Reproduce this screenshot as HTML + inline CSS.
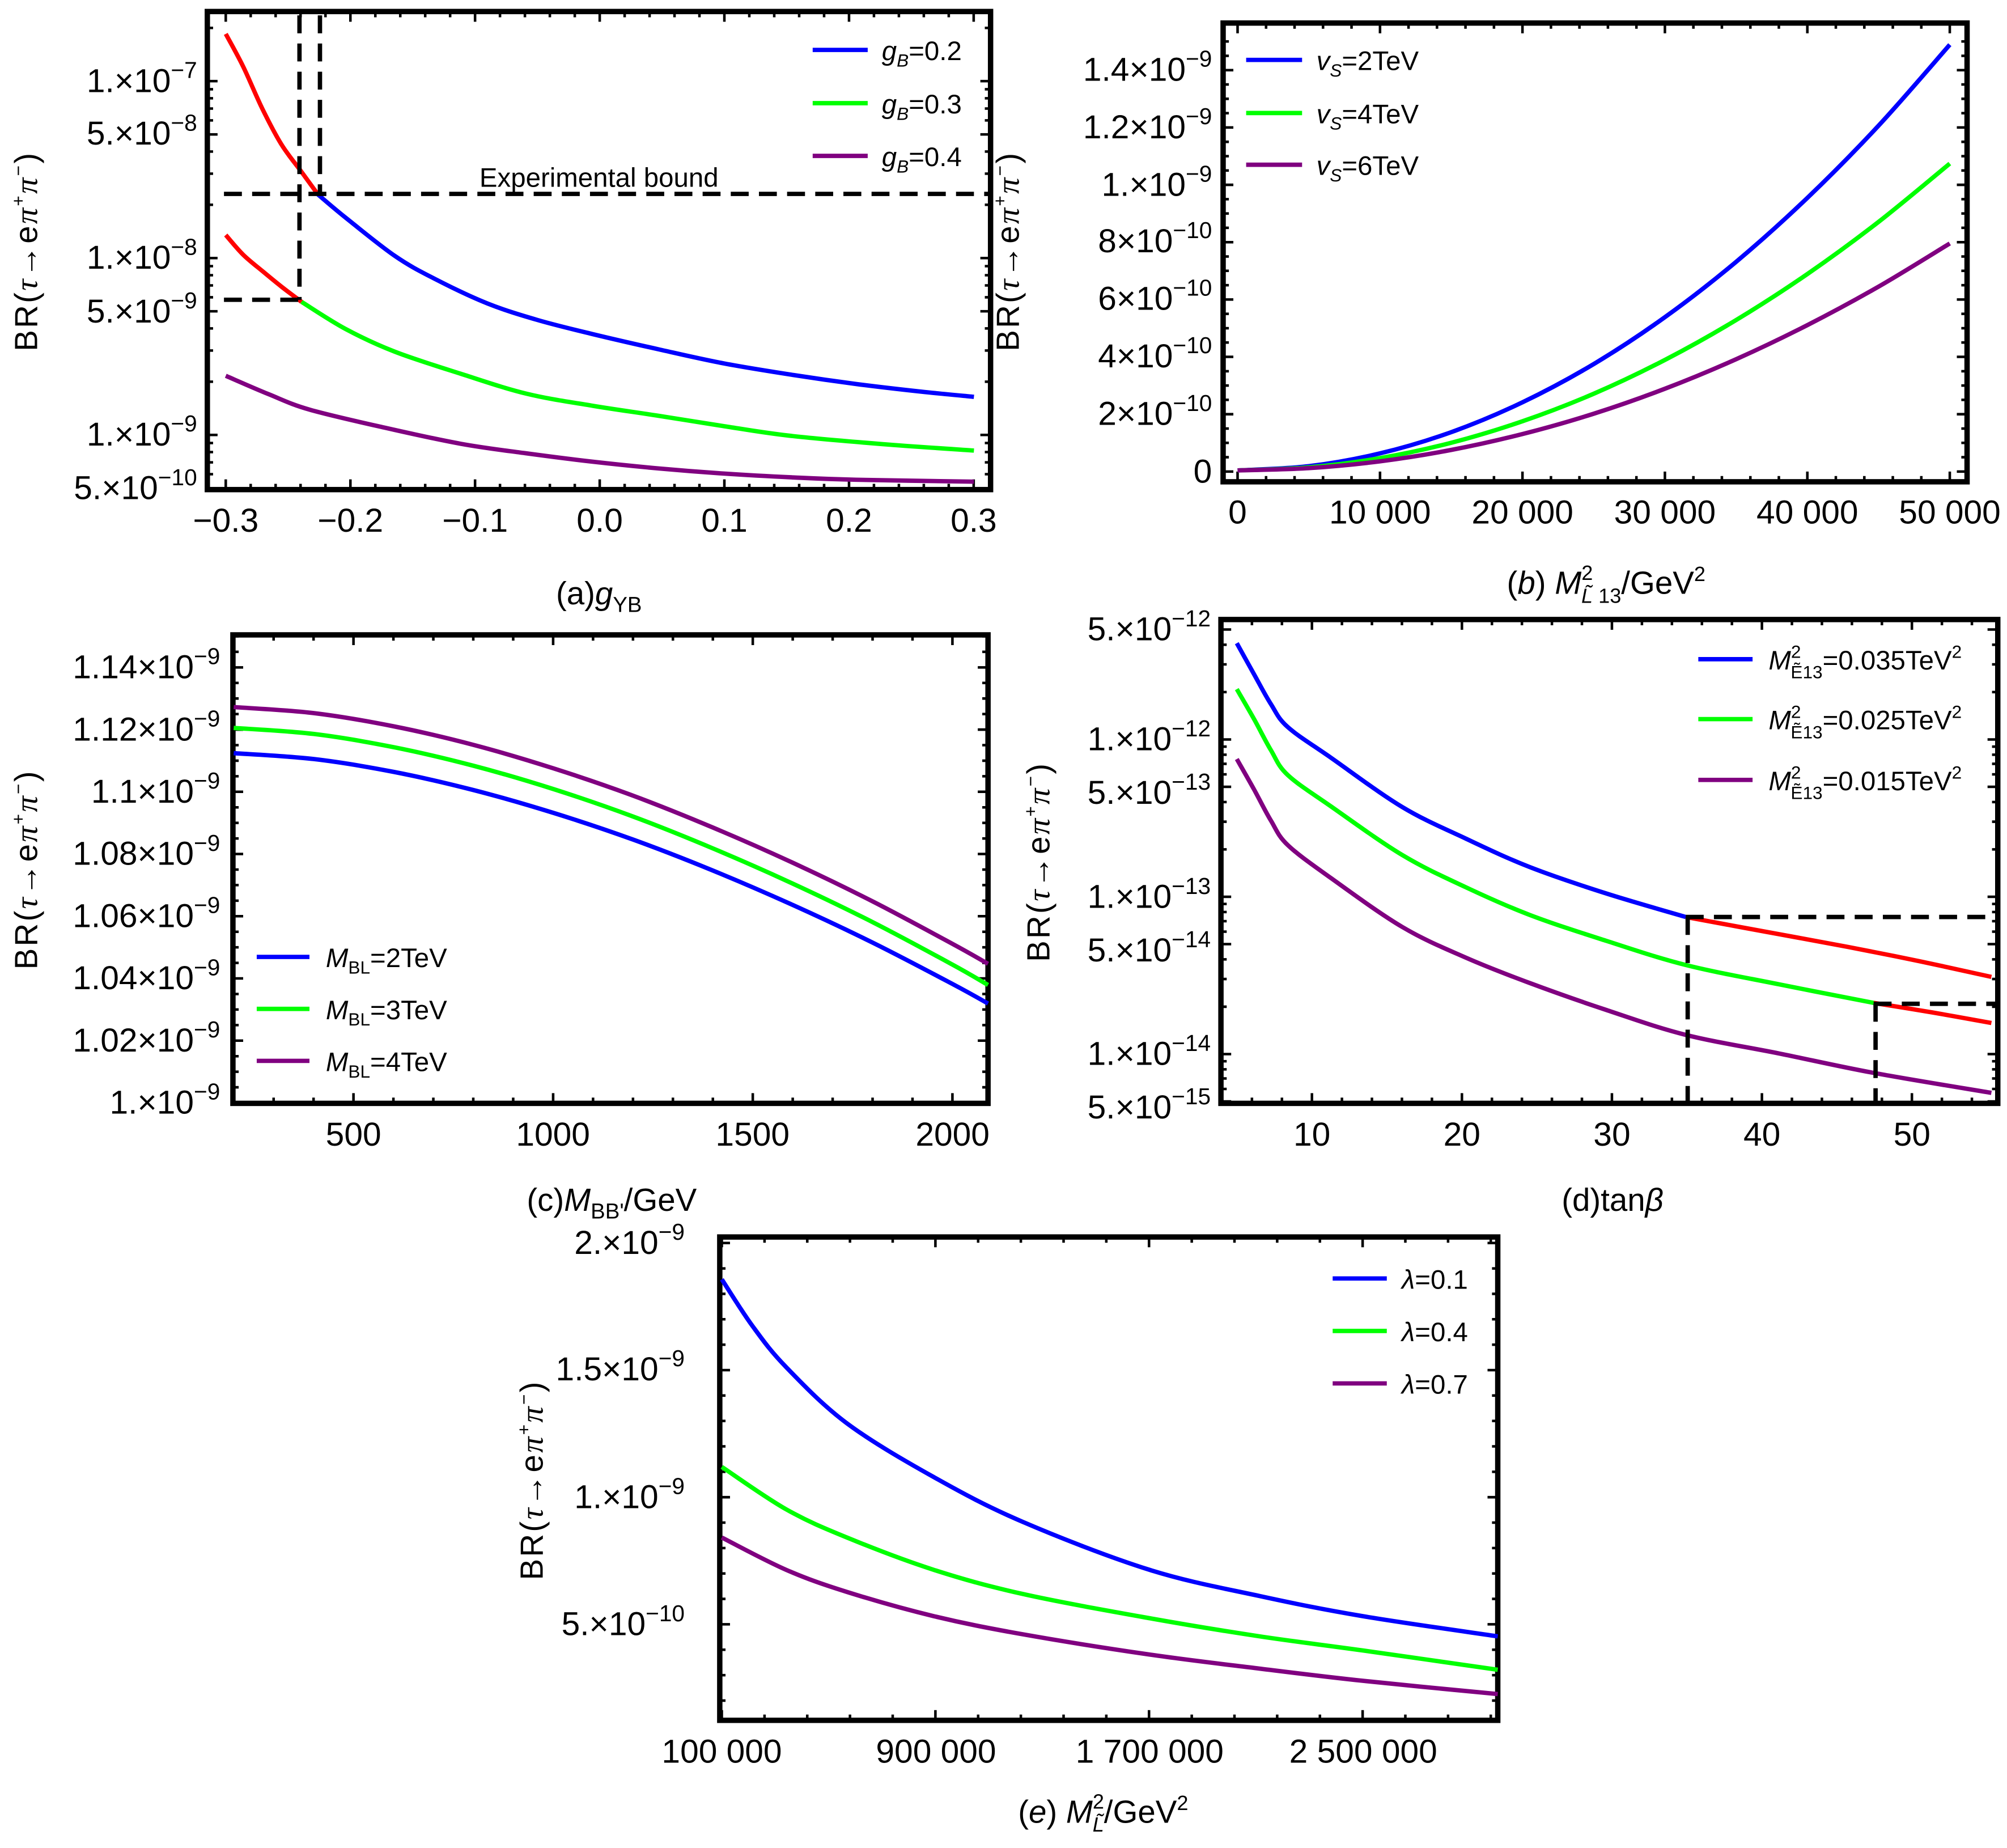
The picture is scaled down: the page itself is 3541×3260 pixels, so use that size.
<!DOCTYPE html>
<html><head><meta charset="utf-8"><style>
html,body{margin:0;padding:0;background:#fff}
svg{display:block}
text{font-family:"Liberation Sans",sans-serif;fill:#000}
.tl{font-size:26px;text-anchor:end}
.tc{font-size:26px;text-anchor:middle}
.lg{font-size:21px}
.ax{font-size:25px}
.fr{fill:none;stroke:#000;stroke-width:4.2}
.c{fill:none;stroke-width:3.4;stroke-linejoin:round;stroke-linecap:butt}
.b{stroke:#0000ff}.g{stroke:#00ff00}.p{stroke:#800080}.r{stroke:#ff0000}
.d{fill:none;stroke:#000;stroke-width:3.4;stroke-dasharray:14 8}
</style></head><body>
<svg id="s" xmlns="http://www.w3.org/2000/svg" width="3541" height="3260" viewBox="0 0 1568.2 1443.75" preserveAspectRatio="none">
<rect x="0" y="0" width="1568.2" height="1443.75" fill="#fff"/>
<g id="ticks" stroke="#000" stroke-width="2"></g>

<!-- Panel (a) -->
<rect class="fr" x="162" y="9" width="612" height="373.5"/>
<polyline class="c b" points="248.5,152 270,170 308.6,200 340,218 380.7,237 420,250 463,261 515,273 566,284 620,293 669,300 720,306 761,310"/>
<polyline class="c r" points="176.4,26.5 190,52 205,85 220,113 235.6,134.3 248.5,152"/>
<polyline class="c g" points="235.6,235.8 270,257 308.6,274.8 360,292 411.5,307.6 463,317 514.4,324.8 566,333 617,340.4 690,347 761,352"/>
<polyline class="c r" points="176.4,183.6 190,199 205.8,212.4 220,224 235.6,235.8"/>
<polyline class="c p" points="176.4,293.6 210,308 241.8,320 300,334 360,346.7 410,354 463,360.7 515,366 566,370 620,373 669,374.8 761,376.3"/>
<line class="d" x1="175" y1="151.5" x2="772" y2="151.5"/>
<line class="d" x1="250" y1="12" x2="250" y2="151.5"/>
<line class="d" x1="234" y1="12" x2="234" y2="234.2"/>
<line class="d" x1="175" y1="234.2" x2="234" y2="234.2"/>
<text x="468" y="146" class="lg" text-anchor="middle">Experimental bound</text>
<line x1="635" y1="39" x2="678" y2="39" class="c b"/>
<line x1="635" y1="80.6" x2="678" y2="80.6" class="c g"/>
<line x1="635" y1="121.8" x2="678" y2="121.8" class="c p"/>
<text x="689" y="47" class="lg"><tspan font-style="italic">g</tspan><tspan font-size="14" dy="5" font-style="italic">B</tspan><tspan dy="-5">=0.2</tspan></text>
<text x="689" y="88.6" class="lg"><tspan font-style="italic">g</tspan><tspan font-size="14" dy="5" font-style="italic">B</tspan><tspan dy="-5">=0.3</tspan></text>
<text x="689" y="129.8" class="lg"><tspan font-style="italic">g</tspan><tspan font-size="14" dy="5" font-style="italic">B</tspan><tspan dy="-5">=0.4</tspan></text>
<g class="tl">
<text x="154" y="72">1.×10<tspan font-size="18" dy="-11">−7</tspan></text>
<text x="154" y="113">5.×10<tspan font-size="18" dy="-11">−8</tspan></text>
<text x="154" y="210">1.×10<tspan font-size="18" dy="-11">−8</tspan></text>
<text x="154" y="252">5.×10<tspan font-size="18" dy="-11">−9</tspan></text>
<text x="154" y="348">1.×10<tspan font-size="18" dy="-11">−9</tspan></text>
<text x="154" y="390">5.×10<tspan font-size="18" dy="-11">−10</tspan></text>
</g>
<g class="tc">
<text x="176.4" y="415.5">−0.3</text><text x="273.8" y="415.5">−0.2</text><text x="371.2" y="415.5">−0.1</text>
<text x="468.6" y="415.5">0.0</text><text x="566" y="415.5">0.1</text><text x="663.4" y="415.5">0.2</text><text x="760.8" y="415.5">0.3</text>
</g>
<text x="468" y="472" class="ax" text-anchor="middle">(a)<tspan font-style="italic">g</tspan><tspan font-size="17" dy="6">YB</tspan></text>
<text class="ax" transform="translate(29,197) rotate(-90)" text-anchor="middle" textLength="155">BR(<tspan font-family="Liberation Serif" font-style="italic">τ</tspan>→e<tspan font-family="Liberation Serif" font-style="italic">π</tspan><tspan font-size="14" dy="-10">+</tspan><tspan dy="10" font-family="Liberation Serif" font-style="italic">π</tspan><tspan font-size="14" dy="-10">−</tspan><tspan dy="10">)</tspan></text>

<!-- Panel (b) -->
<rect class="fr" x="955.7" y="18" width="581.3" height="358.4"/>
<polyline class="c b" points="967,367.5 1022.7,364.2 1078.3,354.2 1134,337.6 1189.6,314.3 1245.3,284.4 1300.9,247.8 1356.6,204.5 1412.2,154.6 1467.9,98.1 1523.5,34.9"/>
<polyline class="c g" points="967,367.5 1022.7,365.1 1078.3,357.9 1134,345.9 1189.6,329.1 1245.3,307.6 1300.9,281.2 1356.6,250 1412.2,214.1 1467.9,173.3 1523.5,127.8"/>
<polyline class="c p" points="967,367.5 1022.7,365.7 1078.3,360.4 1134,351.5 1189.6,339.1 1245.3,323.2 1300.9,303.7 1356.6,280.6 1412.2,254 1467.9,223.9 1523.5,190.2"/>
<line x1="973.7" y1="46.8" x2="1017.4" y2="46.8" class="c b"/>
<line x1="973.7" y1="88.3" x2="1017.4" y2="88.3" class="c g"/>
<line x1="973.7" y1="128.7" x2="1017.4" y2="128.7" class="c p"/>
<text x="1028.6" y="54.8" class="lg"><tspan font-style="italic">v</tspan><tspan font-size="14" dy="5" font-style="italic">S</tspan><tspan dy="-5">=2TeV</tspan></text>
<text x="1028.6" y="96.3" class="lg"><tspan font-style="italic">v</tspan><tspan font-size="14" dy="5" font-style="italic">S</tspan><tspan dy="-5">=4TeV</tspan></text>
<text x="1028.6" y="136.7" class="lg"><tspan font-style="italic">v</tspan><tspan font-size="14" dy="5" font-style="italic">S</tspan><tspan dy="-5">=6TeV</tspan></text>
<g class="tl">
<text x="947" y="377">0</text>
<text x="947" y="332">2×10<tspan font-size="18" dy="-11">−10</tspan></text>
<text x="947" y="287">4×10<tspan font-size="18" dy="-11">−10</tspan></text>
<text x="947" y="242">6×10<tspan font-size="18" dy="-11">−10</tspan></text>
<text x="947" y="197">8×10<tspan font-size="18" dy="-11">−10</tspan></text>
<text x="947" y="153">1.×10<tspan font-size="18" dy="-11">−9</tspan></text>
<text x="947" y="108">1.2×10<tspan font-size="18" dy="-11">−9</tspan></text>
<text x="947" y="63">1.4×10<tspan font-size="18" dy="-11">−9</tspan></text>
</g>
<g class="tc">
<text x="967" y="409">0</text><text x="1078.3" y="409">10 000</text><text x="1189.6" y="409">20 000</text>
<text x="1300.9" y="409">30 000</text><text x="1412.2" y="409">40 000</text><text x="1523.5" y="409">50 000</text>
</g>
<text x="1255" y="464" class="ax" text-anchor="middle">(<tspan font-style="italic">b</tspan>) <tspan font-style="italic">M</tspan><tspan font-size="16" dy="-11">2</tspan><tspan font-size="16" dx="-9" dy="18" font-style="italic">L̃</tspan><tspan font-size="16" dy="0"> 13</tspan><tspan dy="-7">/GeV</tspan><tspan font-size="16" dy="-10">2</tspan></text>
<text class="ax" transform="translate(796,197) rotate(-90)" text-anchor="middle" textLength="155">BR(<tspan font-family="Liberation Serif" font-style="italic">τ</tspan>→e<tspan font-family="Liberation Serif" font-style="italic">π</tspan><tspan font-size="14" dy="-10">+</tspan><tspan dy="10" font-family="Liberation Serif" font-style="italic">π</tspan><tspan font-size="14" dy="-10">−</tspan><tspan dy="10">)</tspan></text>

<!-- Panel (c) -->
<rect class="fr" x="182" y="496" width="590" height="366"/>
<polyline class="c b" points="182.6,588.4 245,593 307.4,603 369.8,617.2 432.2,635 494.6,655.9 557,680.1 619.4,707 681.8,736.4 744.2,768.7 772,784"/>
<polyline class="c g" points="182.6,568.7 245,573.4 307.4,583.7 369.8,598.2 432.2,616.4 494.6,637.9 557,662.8 619.4,690.3 681.8,720.4 744.2,753.6 772,769.5"/>
<polyline class="c p" points="182.6,552.4 245,557.1 307.4,567.4 369.8,581.9 432.2,600.2 494.6,621.6 557,646.5 619.4,674 681.8,704.2 744.2,737.4 772,753"/>
<line x1="200.6" y1="747.6" x2="241.8" y2="747.6" class="c b"/>
<line x1="200.6" y1="788.2" x2="241.8" y2="788.2" class="c g"/>
<line x1="200.6" y1="828.8" x2="241.8" y2="828.8" class="c p"/>
<text x="254.6" y="755.6" class="lg"><tspan font-style="italic">M</tspan><tspan font-size="14" dy="5">BL</tspan><tspan dy="-5">=2TeV</tspan></text>
<text x="254.6" y="796.2" class="lg"><tspan font-style="italic">M</tspan><tspan font-size="14" dy="5">BL</tspan><tspan dy="-5">=3TeV</tspan></text>
<text x="254.6" y="836.8" class="lg"><tspan font-style="italic">M</tspan><tspan font-size="14" dy="5">BL</tspan><tspan dy="-5">=4TeV</tspan></text>
<g class="tl">
<text x="172" y="870">1.×10<tspan font-size="18" dy="-11">−9</tspan></text>
<text x="172" y="821.5">1.02×10<tspan font-size="18" dy="-11">−9</tspan></text>
<text x="172" y="772.9">1.04×10<tspan font-size="18" dy="-11">−9</tspan></text>
<text x="172" y="724.3">1.06×10<tspan font-size="18" dy="-11">−9</tspan></text>
<text x="172" y="675.7">1.08×10<tspan font-size="18" dy="-11">−9</tspan></text>
<text x="172" y="627.1">1.1×10<tspan font-size="18" dy="-11">−9</tspan></text>
<text x="172" y="578.5">1.12×10<tspan font-size="18" dy="-11">−9</tspan></text>
<text x="172" y="529.9">1.14×10<tspan font-size="18" dy="-11">−9</tspan></text>
</g>
<g class="tc">
<text x="276.2" y="895">500</text><text x="432.1" y="895">1000</text><text x="588" y="895">1500</text><text x="744.3" y="895">2000</text>
</g>
<text x="478" y="946" class="ax" text-anchor="middle">(c)<tspan font-style="italic">M</tspan><tspan font-size="17" dy="6">BB'</tspan><tspan dy="-6">/GeV</tspan></text>
<text class="ax" transform="translate(29,680) rotate(-90)" text-anchor="middle" textLength="155">BR(<tspan font-family="Liberation Serif" font-style="italic">τ</tspan>→e<tspan font-family="Liberation Serif" font-style="italic">π</tspan><tspan font-size="14" dy="-10">+</tspan><tspan dy="10" font-family="Liberation Serif" font-style="italic">π</tspan><tspan font-size="14" dy="-10">−</tspan><tspan dy="10">)</tspan></text>

<!-- Panel (d) -->
<rect class="fr" x="954" y="484" width="607" height="378"/>
<polyline class="c b" points="966.4,502.5 980,527 993,550 1006.2,568 1040,592 1095.7,630.5 1145,655 1195.3,677.4 1255,698 1317.2,716.4"/>
<polyline class="c r" points="1317.2,716.4 1380,728 1444,739.8 1500,751 1556,763.2"/>
<polyline class="c g" points="966.4,538.4 980,562 993,586 1006.2,605.5 1040,630 1095.7,668 1145,693 1195.3,714.8 1255,735 1317.2,753.9 1390,769 1464,783.5"/>
<polyline class="c r" points="1464,783.5 1510,791 1556,799.2"/>
<polyline class="c p" points="966.4,593 980,617 993,641 1006.2,660.2 1040,686 1095.7,724.2 1145,748 1195.3,768 1255,789 1317.2,808.5 1390,823 1464,838.2 1556,853.8"/>
<line class="d" x1="1317.2" y1="716.4" x2="1560" y2="716.4"/>
<line class="d" x1="1318.7" y1="716.4" x2="1318.7" y2="861"/>
<line class="d" x1="1464" y1="784.2" x2="1560" y2="784.2"/>
<line class="d" x1="1465.5" y1="784.2" x2="1465.5" y2="861"/>
<line x1="1327" y1="515" x2="1369.4" y2="515" class="c b"/>
<line x1="1327" y1="561.8" x2="1369.4" y2="561.8" class="c g"/>
<line x1="1327" y1="609.3" x2="1369.4" y2="609.3" class="c p"/>
<g class="lg">
<text x="1381.9" y="523"><tspan font-style="italic">M</tspan><tspan font-size="14" dy="-9">2</tspan><tspan font-size="14" dx="-8" dy="16">Ẽ13</tspan><tspan dy="-7">=0.035TeV</tspan><tspan font-size="14" dy="-9">2</tspan></text>
<text x="1381.9" y="569.8"><tspan font-style="italic">M</tspan><tspan font-size="14" dy="-9">2</tspan><tspan font-size="14" dx="-8" dy="16">Ẽ13</tspan><tspan dy="-7">=0.025TeV</tspan><tspan font-size="14" dy="-9">2</tspan></text>
<text x="1381.9" y="617.3"><tspan font-style="italic">M</tspan><tspan font-size="14" dy="-9">2</tspan><tspan font-size="14" dx="-8" dy="16">Ẽ13</tspan><tspan dy="-7">=0.015TeV</tspan><tspan font-size="14" dy="-9">2</tspan></text>
</g>
<g class="tl">
<text x="946" y="500.3">5.×10<tspan font-size="18" dy="-11">−12</tspan></text>
<text x="946" y="586.2">1.×10<tspan font-size="18" dy="-11">−12</tspan></text>
<text x="946" y="628">5.×10<tspan font-size="18" dy="-11">−13</tspan></text>
<text x="946" y="709.3">1.×10<tspan font-size="18" dy="-11">−13</tspan></text>
<text x="946" y="751.1">5.×10<tspan font-size="18" dy="-11">−14</tspan></text>
<text x="946" y="832">1.×10<tspan font-size="18" dy="-11">−14</tspan></text>
<text x="946" y="873.8">5.×10<tspan font-size="18" dy="-11">−15</tspan></text>
</g>
<g class="tc">
<text x="1025.1" y="895">10</text><text x="1142.3" y="895">20</text><text x="1259.5" y="895">30</text><text x="1376.7" y="895">40</text><text x="1493.9" y="895">50</text>
</g>
<text x="1260" y="946" class="ax" text-anchor="middle">(d)tan<tspan font-style="italic">β</tspan></text>
<text class="ax" transform="translate(820,674) rotate(-90)" text-anchor="middle" textLength="155">BR(<tspan font-family="Liberation Serif" font-style="italic">τ</tspan>→e<tspan font-family="Liberation Serif" font-style="italic">π</tspan><tspan font-size="14" dy="-10">+</tspan><tspan dy="10" font-family="Liberation Serif" font-style="italic">π</tspan><tspan font-size="14" dy="-10">−</tspan><tspan dy="10">)</tspan></text>

<!-- Panel (e) -->
<rect class="fr" x="562.4" y="966.4" width="607.9" height="377.6"/>
<polyline class="c b" points="564,999.5 587.8,1035.7 614.2,1068 661.8,1112 729.5,1153.9 799.2,1189 898.1,1226.4 984.2,1246.9 1064.6,1262.6 1170.3,1278.4"/>
<polyline class="c g" points="564,1146 614.2,1179.1 661.8,1201.2 729.5,1226.4 799.2,1245.3 898.1,1264.2 984.2,1278.4 1064.6,1289.4 1170.3,1304.5"/>
<polyline class="c p" points="564,1201.2 614.2,1226.4 661.8,1243.7 729.5,1262.6 799.2,1276.8 898.1,1292.6 984.2,1303.6 1064.6,1313.1 1170.3,1323.5"/>
<line x1="1041.3" y1="998.8" x2="1083.6" y2="998.8" class="c b"/>
<line x1="1041.3" y1="1039.8" x2="1083.6" y2="1039.8" class="c g"/>
<line x1="1041.3" y1="1080.8" x2="1083.6" y2="1080.8" class="c p"/>
<text x="1095.2" y="1006.8" class="lg"><tspan font-style="italic">λ</tspan>=0.1</text>
<text x="1095.2" y="1047.8" class="lg"><tspan font-style="italic">λ</tspan>=0.4</text>
<text x="1095.2" y="1088.8" class="lg"><tspan font-style="italic">λ</tspan>=0.7</text>
<g class="tl">
<text x="535" y="979.6">2.×10<tspan font-size="18" dy="-11">−9</tspan></text>
<text x="535" y="1078.3">1.5×10<tspan font-size="18" dy="-11">−9</tspan></text>
<text x="535" y="1178.2">1.×10<tspan font-size="18" dy="-11">−9</tspan></text>
<text x="535" y="1277.5">5.×10<tspan font-size="18" dy="-11">−10</tspan></text>
</g>
<g class="tc">
<text x="564" y="1377">100 000</text><text x="731.4" y="1377">900 000</text><text x="898.3" y="1377">1 700 000</text><text x="1065.2" y="1377">2 500 000</text>
</g>
<text x="862" y="1424" class="ax" text-anchor="middle">(<tspan font-style="italic">e</tspan>) <tspan font-style="italic">M</tspan><tspan font-size="16" dy="-11">2</tspan><tspan font-size="16" dx="-9" dy="18" font-style="italic">L̃</tspan><tspan dy="-7">/GeV</tspan><tspan font-size="16" dy="-10">2</tspan></text>
<text class="ax" transform="translate(424,1157) rotate(-90)" text-anchor="middle" textLength="155">BR(<tspan font-family="Liberation Serif" font-style="italic">τ</tspan>→e<tspan font-family="Liberation Serif" font-style="italic">π</tspan><tspan font-size="14" dy="-10">+</tspan><tspan dy="10" font-family="Liberation Serif" font-style="italic">π</tspan><tspan font-size="14" dy="-10">−</tspan><tspan dy="10">)</tspan></text>
</svg>
<script>
(function(){
var NS='http://www.w3.org/2000/svg';
// smooth polylines (Catmull-Rom)
var pls=document.querySelectorAll('polyline.c');
for(var i=0;i<pls.length;i++){
 var pl=pls[i],pts=pl.getAttribute('points').trim().split(/\s+/).map(function(s){var a=s.split(',');return[+a[0],+a[1]];});
 var d='M'+pts[0][0]+' '+pts[0][1];
 for(var k=0;k<pts.length-1;k++){
  var p0=pts[k>0?k-1:k],p1=pts[k],p2=pts[k+1],p3=pts[k+2<pts.length?k+2:k+1];
  var c1x=p1[0]+(p2[0]-p0[0])/6,c1y=p1[1]+(p2[1]-p0[1])/6,c2x=p2[0]-(p3[0]-p1[0])/6,c2y=p2[1]-(p3[1]-p1[1])/6;
  d+='C'+c1x.toFixed(2)+' '+c1y.toFixed(2)+' '+c2x.toFixed(2)+' '+c2y.toFixed(2)+' '+p2[0]+' '+p2[1];
 }
 var p=document.createElementNS(NS,'path');p.setAttribute('d',d);p.setAttribute('class',pl.getAttribute('class'));
 pl.parentNode.replaceChild(p,pl);
}
var g=document.getElementById('ticks'),d='';
function v(x,y0,y1,L){d+='M'+x+' '+y1+'v'+(-L)+'M'+x+' '+y0+'v'+L;}
function h(y,x0,x1,L){d+='M'+x0+' '+y+'h'+L+'M'+x1+' '+y+'h'+(-L);}
function P(fr,xs,ys){
 xs.forEach(function(t){if(t[0]>fr[0]+1&&t[0]<fr[1]-1)v(t[0],fr[2],fr[3],t[1]);});
 ys.forEach(function(t){if(t[0]>fr[2]+1&&t[0]<fr[3]-1)h(t[0],fr[0],fr[1],t[1]);});
}
function lin(a,b,step,mstep,f){var r=[];for(var x=a;x<=b+1e-9;x+=mstep){var m=Math.abs(Math.round((x-a)/step)*step-(x-a))<mstep/10;r.push([f(x),m?8:4.5]);}return r;}
function lg(n0,n1,f){var r=[];for(var n=n0;n<=n1;n++)for(var k=1;k<10;k++){r.push([f(k*Math.pow(10,n)),(k==1||k==5)?8:4.5]);}return r;}
P([162,774,9,382.5],lin(-0.3,0.3,0.1,0.02,function(x){return 176.4+(x+0.3)*974;}),
 lg(-10,-7,function(v){return 63.4-138.2*(Math.log10(v)+7);}));
P([955.7,1537,18,376.4],lin(0,50000,10000,2000,function(x){return 967+x*0.01113;}),
 lin(0,1.5,0.2,0.05,function(u){return 368.4-224*u;}));
P([182,772,496,862],lin(500,2100,500,100,function(x){return 182.6+(x-200)*0.312;}).concat([[213.8,4.5],[245,4.5]]),
 lin(1.0,1.15,0.02,0.005,function(u){return 861.6-(u-1)*2430;}));
P([954,1561,484,862],lin(0,56,10,2,function(x){return 966.5+(x-5)*11.72;}),
 lg(-15,-12,function(v){return 577.7-122.9*(Math.log10(v)+12);}));
P([562.4,1170.3,966.4,1344],lin(100000,3000000,800000,160000,function(x){return 564+(x-1e5)*2.0863e-4;}),
 lin(0,2,0.5,0.1,function(u){return 1169.7-(u-1)*198.6;}));
var p=document.createElementNS(NS,'path');p.setAttribute('d',d);p.setAttribute('fill','none');g.appendChild(p);
})();
</script>
</body></html>
